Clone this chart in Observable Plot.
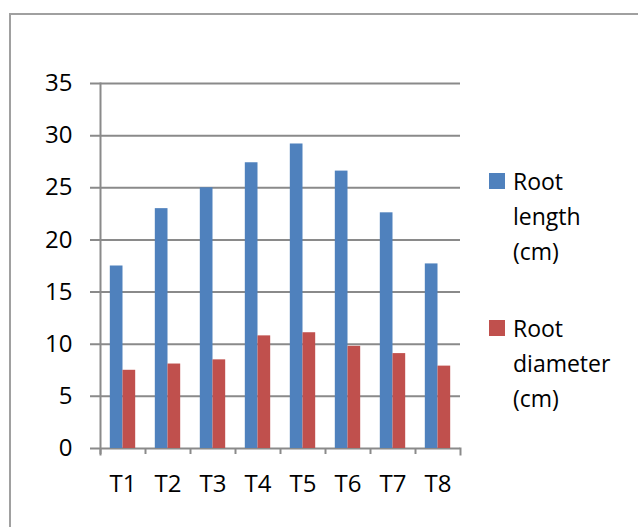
<!DOCTYPE html>
<html>
<head>
<meta charset="utf-8">
<script src="https://cdn.jsdelivr.net/npm/d3@7"></script>
<script src="https://cdn.jsdelivr.net/npm/@observablehq/plot@0.6"></script>
<style>
  body { margin: 0; background: #fff; }
  #wrap { position: relative; width: 638px; height: 527px; overflow: hidden; font-family: "Open Sans", sans-serif; }
  #border { position: absolute; left: 9px; top: 13px; width: 700px; height: 600px; border: 2px solid #a0a0a0; }
  #chart { position: absolute; left: 0; top: 0; }
  .item { position: absolute; left: 489px; font-size: 23px; line-height: 35px; color: #000; }
  .sw { position: absolute; left: 0; top: 9px; width: 16px; height: 16px; }
  .lab { margin-left: 24px; }
</style>
</head>
<body>
<div id="wrap">
  <div id="border"></div>
  <div id="chart"></div>
  <div id="legend"></div>
</div>
<script>
const categories = ["T1", "T2", "T3", "T4", "T5", "T6", "T7", "T8"];
const rootLength = [17.5, 23.0, 25.0, 27.4, 29.2, 26.6, 22.6, 17.7];
const rootDiameter = [7.5, 8.1, 8.5, 10.8, 11.1, 9.8, 9.1, 7.9];
const seriesNames = ["Root length (cm)", "Root diameter (cm)"];
const seriesLegend = [["Root", "length", "(cm)"], ["Root", "diameter", "(cm)"]];
const seriesColors = ["#4F81BD", "#C0504D"];
const yTicks = [0, 5, 10, 15, 20, 25, 30, 35];

const W = 638, H = 527;
const mL = 100, mR = 178, mT = 83, mB = 79;
const bw = (W - mL - mR) / categories.length;
const plotH = H - mT - mB;
const gray = "#8a8a8a";

const data = categories.flatMap((c, i) => [
  {cat: c, series: seriesNames[0], value: rootLength[i]},
  {cat: c, series: seriesNames[1], value: rootDiameter[i]}
]);

const chart = Plot.plot({
  width: W, height: H,
  marginLeft: mL, marginRight: mR, marginTop: mT, marginBottom: mB,
  style: {background: "transparent", fontFamily: "'Open Sans', sans-serif", fontSize: "24px", color: "#000"},
  x: {domain: categories, padding: 0, label: null},
  y: {domain: [0, 35], label: null},
  marks: [
    Plot.ruleY(yTicks, {stroke: gray, strokeWidth: 2, insetLeft: -10}),
    Plot.barY(data.filter(d => d.series === seriesNames[0]), {x: "cat", y: "value", fill: seriesColors[0], insetLeft: bw * 0.218, insetRight: bw * 0.5}),
    Plot.barY(data.filter(d => d.series === seriesNames[1]), {x: "cat", y: "value", fill: seriesColors[1], insetLeft: bw * 0.5, insetRight: bw * 0.218}),
    Plot.frame({anchor: "left", stroke: gray, strokeWidth: 2, insetBottom: -6}),
    Plot.frame({anchor: "right", stroke: gray, strokeWidth: 2, insetTop: plotH, insetBottom: -6}),
    Plot.axisX({tickSize: 6, dx: -bw / 2, tickFormat: () => "", stroke: gray, strokeWidth: 2}),
    Plot.axisX({tickSize: 0, tickPadding: 26, fill: "#000", fontSize: 24}),
    Plot.axisY({ticks: yTicks, tickSize: 0, tickPadding: 28, fill: "#000", fontSize: 24})
  ]
});
document.getElementById("chart").appendChild(chart);

const legend = document.getElementById("legend");
const tops = [164, 311];
seriesLegend.forEach((lines, i) => {
  const item = document.createElement("div");
  item.className = "item";
  item.style.top = tops[i] + "px";
  item.innerHTML = `<div class="sw" style="background:${seriesColors[i]}"></div><div class="lab">${lines.join("<br>")}</div>`;
  legend.appendChild(item);
});
</script>
</body>
</html>
